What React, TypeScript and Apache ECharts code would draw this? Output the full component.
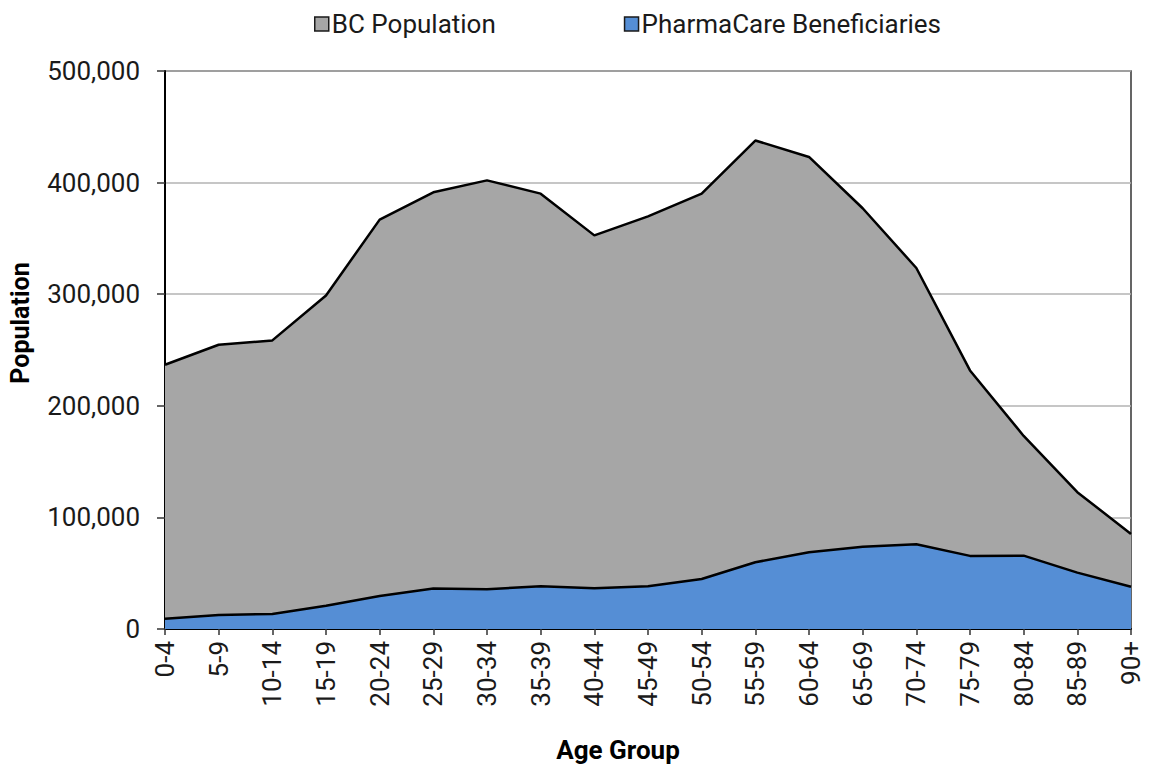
import React, { useEffect, useRef } from "react";
import * as echarts from "echarts";

const ageGroups = [
  "0-4", "5-9", "10-14", "15-19", "20-24", "25-29", "30-34", "35-39", "40-44", "45-49",
  "50-54", "55-59", "60-64", "65-69", "70-74", "75-79", "80-84", "85-89", "90+",
];

const bcPopulation = [
  236800, 254700, 258600, 298900, 366800, 391300, 402000, 390100, 352700, 369800,
  390100, 437700, 423000, 377000, 323500, 231700, 173000, 122600, 85200,
];

const pharmaCareBeneficiaries = [
  9200, 12600, 13500, 20900, 29600, 36200, 35600, 38300, 36500, 38300,
  44800, 59800, 68800, 73800, 76000, 65500, 65700, 50500, 37900,
];

const seriesNames = ["BC Population", "PharmaCare Beneficiaries"];
const FONT = "Roboto, 'Noto Sans', sans-serif";

export default function App() {
  const ref = useRef<HTMLDivElement>(null);

  useEffect(() => {
    if (!ref.current) return;
    const chart = echarts.init(ref.current, undefined, { renderer: "svg" });
    chart.setOption({
      animation: false,
      backgroundColor: "#ffffff",
      textStyle: { fontFamily: FONT },
      legend: {
        top: 6,
        left: 309,
        itemGap: 128,
        itemWidth: 14,
        itemHeight: 14,
        icon: "rect",
        data: seriesNames,
        textStyle: { fontSize: 26, color: "#1a1a1a", fontFamily: FONT, padding: [0, 0, 0, -2] },
        itemStyle: { borderColor: "#1a1a1a", borderWidth: 1.5 },
      },
      grid: {
        left: 165,
        right: 18,
        top: 71,
        bottom: 136,
        show: true,
        borderColor: "#333333",
        borderWidth: 1.5,
        backgroundColor: "transparent",
      },
      xAxis: {
        type: "category",
        data: ageGroups,
        boundaryGap: false,
        axisLine: { lineStyle: { color: "#000000", width: 2 } },
        axisTick: { show: true, length: 6, alignWithLabel: true, lineStyle: { color: "#333333", width: 1.5 } },
        axisLabel: {
          rotate: 90,
          margin: 12,
          fontSize: 26,
          color: "#1a1a1a",
          fontFamily: FONT,
          interval: 0,
        },
        splitLine: { show: false },
      },
      yAxis: {
        type: "value",
        min: 0,
        max: 500000,
        interval: 100000,
        axisLine: { show: true, lineStyle: { color: "#000000", width: 2 } },
        axisTick: { show: true, length: 8, lineStyle: { color: "#333333", width: 1.5 } },
        axisLabel: {
          margin: 25,
          fontSize: 26,
          color: "#1a1a1a",
          fontFamily: FONT,
          formatter: (v: number) => v.toLocaleString("en-US"),
        },
        splitLine: { show: true, lineStyle: { color: "#b3b3b3", width: 1.5 } },
      },
      series: [
        {
          name: seriesNames[0],
          type: "line",
          data: bcPopulation,
          showSymbol: false,
          symbol: "none",
          lineStyle: { color: "#000000", width: 2.5 },
          itemStyle: { color: "#a6a6a6" },
          areaStyle: { color: "#a6a6a6", opacity: 1 },
          z: 2,
        },
        {
          name: seriesNames[1],
          type: "line",
          data: pharmaCareBeneficiaries,
          showSymbol: false,
          symbol: "none",
          lineStyle: { color: "#000000", width: 2.5 },
          itemStyle: { color: "#558ed5" },
          areaStyle: { color: "#558ed5", opacity: 1 },
          z: 3,
        },
      ],
      graphic: [
        {
          type: "text",
          x: 20,
          y: 323,
          rotation: Math.PI / 2,
          style: {
            text: "Population",
            fontSize: 25,
            fontWeight: "bold",
            fill: "#000000",
            fontFamily: FONT,
            align: "center",
            verticalAlign: "middle",
          },
        },
        {
          type: "text",
          x: 618,
          y: 750,
          style: {
            text: "Age Group",
            fontSize: 26,
            fontWeight: "bold",
            fill: "#000000",
            fontFamily: FONT,
            align: "center",
            verticalAlign: "middle",
          },
        },
      ],
    });
    return () => chart.dispose();
  }, []);

  return <div ref={ref} style={{ width: 1149, height: 765, position: "absolute", left: 0, top: 0 }} />;
}
